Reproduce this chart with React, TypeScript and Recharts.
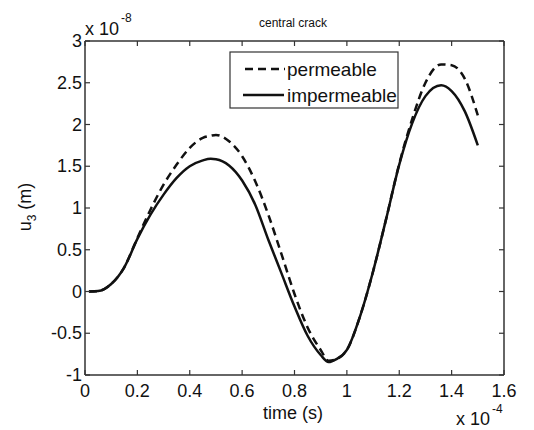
import { LineChart, Line, XAxis, YAxis, Customized } from 'recharts';

// time in units of 1e-4 s, displacement in units of 1e-8 m
const time = [0.015, 0.05, 0.1, 0.15, 0.2, 0.25, 0.3, 0.35, 0.4, 0.45, 0.48, 0.5, 0.55, 0.6, 0.65, 0.7, 0.75, 0.8, 0.85, 0.9, 0.93, 0.96, 1.0, 1.05, 1.1, 1.15, 1.2, 1.25, 1.3, 1.36, 1.4, 1.45, 1.5];
const permeable = [0, 0.005, 0.09, 0.29, 0.64, 0.98, 1.28, 1.52, 1.72, 1.84, 1.865, 1.875, 1.8, 1.62, 1.32, 0.92, 0.45, -0.03, -0.43, -0.7, -0.83, -0.81, -0.7, -0.3, 0.24, 0.87, 1.53, 2.07, 2.5, 2.72, 2.71, 2.55, 2.11];
const impermeable = [0, 0.005, 0.09, 0.29, 0.63, 0.92, 1.16, 1.36, 1.5, 1.57, 1.59, 1.585, 1.51, 1.33, 1.04, 0.62, 0.22, -0.18, -0.53, -0.76, -0.845, -0.81, -0.7, -0.3, 0.24, 0.87, 1.52, 2.02, 2.34, 2.47, 2.4, 2.16, 1.75];

const xTicks = [0, 0.2, 0.4, 0.6, 0.8, 1, 1.2, 1.4, 1.6];
const xTickLabels = ['0', '0.2', '0.4', '0.6', '0.8', '1', '1.2', '1.4', '1.6'];
const yTicks = [-1, -0.5, 0, 0.5, 1, 1.5, 2, 2.5, 3];
const yTickLabels = ['-1', '-0.5', '0', '0.5', '1', '1.5', '2', '2.5', '3'];

const data = time.map((t, i) => ({ t, permeable: permeable[i], impermeable: impermeable[i] }));

const FONT = '"Liberation Sans", Arial, Helvetica, sans-serif';
const INK = '#111';
const FRAME = '#333';
const frameLine = { stroke: FRAME, strokeWidth: 1.5 };
const tickStroke = { stroke: FRAME, strokeWidth: 1.2 };

// tickSize is negative so the tick marks point into the plot, as in MATLAB
const BottomTick = (props: any) => (
  <text x={props.x} y={props.y + 22} textAnchor="middle" fontSize={18} fontFamily={FONT} fill={INK}>
    {xTickLabels[props.index]}
  </text>
);

const LeftTick = (props: any) => (
  <text x={props.x - 3} y={props.y + 6} textAnchor="end" fontSize={18} fontFamily={FONT} fill={INK}>
    {yTickLabels[props.index]}
  </text>
);

const NoLabel = () => <g />;

const Overlay = () => (
  <g fontFamily={FONT} fill={INK}>
    <text x={293} y={27} textAnchor="middle" fontSize={12}>central crack</text>
    <text x={85} y={35} fontSize={18}>x 10</text>
    <text x={121} y={22} fontSize={12}>-8</text>
    <text x={293} y={419} textAnchor="middle" fontSize={18}>time (s)</text>
    <text x={456} y={425} fontSize={18}>x 10</text>
    <text x={492} y={413} fontSize={12}>-4</text>
    <text transform="translate(31,207) rotate(-90)" textAnchor="middle" fontSize={18}>
      u<tspan fontSize={12} dy={5}>3</tspan>
      <tspan dy={-5}> (m)</tspan>
    </text>
    <rect x={230} y={52} width={168} height={56} fill="#fff" stroke={FRAME} strokeWidth={1.2} />
    <line x1={245} x2={285} y1={69} y2={69} stroke={INK} strokeWidth={2.5} strokeDasharray="8 5" />
    <text x={287} y={76} fontSize={19}>permeable</text>
    <line x1={243} x2={284} y1={95} y2={95} stroke={INK} strokeWidth={2.5} />
    <text x={287} y={102} fontSize={19}>impermeable</text>
  </g>
);

const App: React.FC = () => (
  <div style={{ position: 'absolute', left: 0, top: 0, background: '#fff' }}>
    <LineChart width={534} height={430} data={data} margin={{ top: 40, right: 29, bottom: 0, left: 0 }}>
      <XAxis
        dataKey="t"
        type="number"
        domain={[0, 1.6]}
        ticks={xTicks}
        allowDataOverflow
        height={55}
        tickSize={-5}
        tickMargin={5}
        tickLine={tickStroke}
        axisLine={frameLine}
        tick={<BottomTick />}
        interval={0}
      />
      <XAxis
        xAxisId="top"
        orientation="top"
        dataKey="t"
        type="number"
        domain={[0, 1.6]}
        ticks={xTicks}
        allowDataOverflow
        height={1}
        tickSize={-5}
        tickMargin={0}
        tickLine={tickStroke}
        axisLine={frameLine}
        tick={<NoLabel />}
        interval={0}
      />
      <YAxis
        type="number"
        domain={[-1, 3]}
        ticks={yTicks}
        allowDataOverflow
        width={85}
        tickSize={-5}
        tickMargin={5}
        tickLine={tickStroke}
        axisLine={frameLine}
        tick={<LeftTick />}
        interval={0}
      />
      <YAxis
        yAxisId="right"
        orientation="right"
        type="number"
        domain={[-1, 3]}
        ticks={yTicks}
        allowDataOverflow
        width={1}
        tickSize={-5}
        tickMargin={0}
        tickLine={tickStroke}
        axisLine={frameLine}
        tick={<NoLabel />}
        interval={0}
      />
      <Line
        xAxisId="top"
        yAxisId="right"
        dataKey="permeable"
        stroke="none"
        dot={false}
        legendType="none"
        isAnimationActive={false}
      />
      <Line
        type="monotone"
        dataKey="permeable"
        stroke={INK}
        strokeWidth={2.5}
        strokeDasharray="8 5"
        dot={false}
        isAnimationActive={false}
      />
      <Line
        type="monotone"
        dataKey="impermeable"
        stroke={INK}
        strokeWidth={2.5}
        dot={false}
        isAnimationActive={false}
      />
      <Customized component={Overlay} />
    </LineChart>
  </div>
);

export default App;
